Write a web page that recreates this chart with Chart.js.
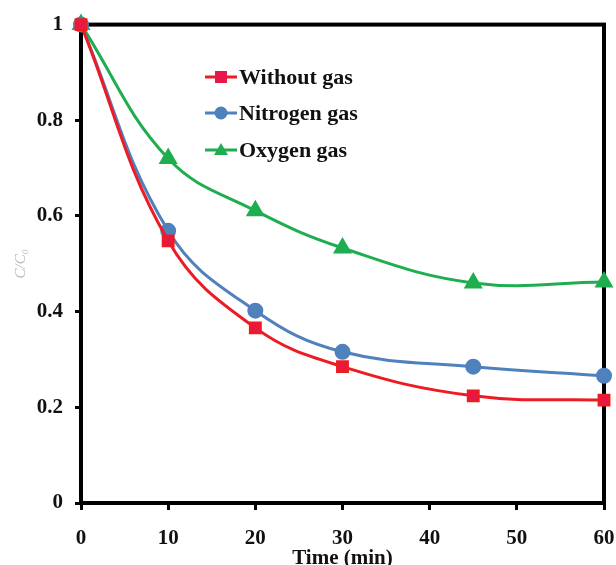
<!DOCTYPE html>
<html>
<head>
<meta charset="utf-8">
<script src="https://cdn.jsdelivr.net/npm/chart.js@4"></script>
<style>
  html, body { margin: 0; padding: 0; background: #fff; }
  #wrap { width: 616px; height: 565px; }
</style>
</head>
<body>
<div id="wrap"><canvas id="gasChart" width="616" height="565"></canvas></div>
<script>
// sampling times (min)
var times = [0, 10, 20, 30, 45, 60];
// C/C0 for each run
var withoutGas = [1, 0.548, 0.366, 0.285, 0.224, 0.215];
var nitrogenGas = [1, 0.569, 0.402, 0.316, 0.285, 0.266];
var oxygenGas = [1, 0.720, 0.611, 0.533, 0.460, 0.462];
var seriesNames = ["Without gas", "Nitrogen gas", "Oxygen gas"];
var xTicks = [0, 10, 20, 30, 40, 50, 60];
var yTicks = [0, 0.2, 0.4, 0.6, 0.8, 1];

var serif = "'Liberation Serif', 'Times New Roman', serif";

function toPoints(vals) {
    return vals.map(function (v, i) { return { x: times[i], y: v }; });
}

// frame round the plot area
var frameBox = {
    id: "frameBox",
    beforeDatasetsDraw: function (chart) {
        var a = chart.chartArea, c = chart.ctx;
        c.save();
        c.strokeStyle = "#000";
        c.lineWidth = 4;
        c.strokeRect(a.left, a.top, a.right - a.left, a.bottom - a.top);
        c.restore();
    }
};

// legend drawn inside the plot
var innerLegend = {
    id: "innerLegend",
    afterDatasetsDraw: function (chart) {
        var c = chart.ctx;
        var x0 = 205, x1 = 237, rowY = [77, 113, 150];
        c.save();
        chart.data.datasets.forEach(function (ds, i) {
            var y = rowY[i], xm = (x0 + x1) / 2;
            c.strokeStyle = ds.borderColor;
            c.lineWidth = 3;
            c.beginPath();
            c.moveTo(x0, y);
            c.lineTo(x1, y);
            c.stroke();
            c.fillStyle = ds.pointBackgroundColor;
            c.beginPath();
            if (ds.pointStyle === "rect") {
                c.rect(xm - 6, y - 6, 12, 12);
            } else if (ds.pointStyle === "circle") {
                c.arc(xm, y, 6.5, 0, Math.PI * 2);
            } else {
                c.moveTo(xm, y - 7);
                c.lineTo(xm + 7, y + 5);
                c.lineTo(xm - 7, y + 5);
                c.closePath();
            }
            c.fill();
            c.fillStyle = "#111";
            c.font = "bold 22px " + serif;
            c.textBaseline = "middle";
            c.textAlign = "left";
            c.fillText(ds.label, x1 + 2, y + 1);
        });
        c.restore();
    }
};

var tickFont = { family: serif, size: 21, weight: "bold" };

var ctx = document.getElementById("gasChart").getContext("2d");
new Chart(ctx, {
    type: "line",
    data: {
        datasets: [
            {
                label: seriesNames[0],
                data: toPoints(withoutGas),
                borderColor: "#ed1c24",
                backgroundColor: "#e8174a",
                pointBackgroundColor: "#e8174a",
                pointBorderColor: "#ed1c24",
                pointStyle: "rect",
                pointRadius: 7,
                borderWidth: 3,
                tension: 0.4
            },
            {
                label: seriesNames[1],
                data: toPoints(nitrogenGas),
                borderColor: "#4f81bd",
                backgroundColor: "#4f81bd",
                pointBackgroundColor: "#4f81bd",
                pointBorderColor: "#4f81bd",
                pointStyle: "circle",
                pointRadius: 6.5,
                borderWidth: 3,
                tension: 0.4
            },
            {
                label: seriesNames[2],
                data: toPoints(oxygenGas),
                borderColor: "#1fae4f",
                backgroundColor: "#1fae4f",
                pointBackgroundColor: "#1fae4f",
                pointBorderColor: "#1fae4f",
                pointStyle: "triangle",
                pointRadius: 8,
                borderWidth: 3,
                tension: 0.4
            }
        ]
    },
    options: {
        responsive: false,
        animation: false,
        clip: false,
        layout: { padding: { left: 0, right: 12, top: 18, bottom: 0 } },
        plugins: {
            legend: { display: false },
            tooltip: { enabled: false }
        },
        scales: {
            x: {
                type: "linear",
                min: 0,
                max: 60,
                afterBuildTicks: function (s) { s.ticks = xTicks.map(function (v) { return { value: v }; }); },
                afterFit: function (s) { s.height = 62; s.paddingLeft = 0; s.paddingRight = 0; },
                grid: { drawOnChartArea: false, drawTicks: true, tickLength: 7, color: "#000", lineWidth: 3 },
                border: { display: false },
                ticks: { color: "#111", font: tickFont, padding: 16, maxRotation: 0 },
                title: { display: true, text: "Time (min)", color: "#111", font: tickFont, padding: { top: -8, bottom: -6 } }
            },
            y: {
                min: 0,
                max: 1,
                afterBuildTicks: function (s) { s.ticks = yTicks.map(function (v) { return { value: v }; }); },
                afterFit: function (s) { s.width = 81; },
                grid: { drawOnChartArea: false, drawTicks: true, tickLength: 6, color: "#000", lineWidth: 3 },
                border: { display: false },
                ticks: {
                    color: "#111",
                    font: tickFont,
                    padding: 12,
                    callback: function (v) { return String(Math.round(v * 10) / 10); }
                },
                title: { display: true, text: "C/C\u2080", color: "#bbb", font: { family: serif, size: 15, style: "italic" }, padding: { top: 12, bottom: 0 } }
            }
        }
    },
    plugins: [frameBox, innerLegend]
});
</script>
</body>
</html>
